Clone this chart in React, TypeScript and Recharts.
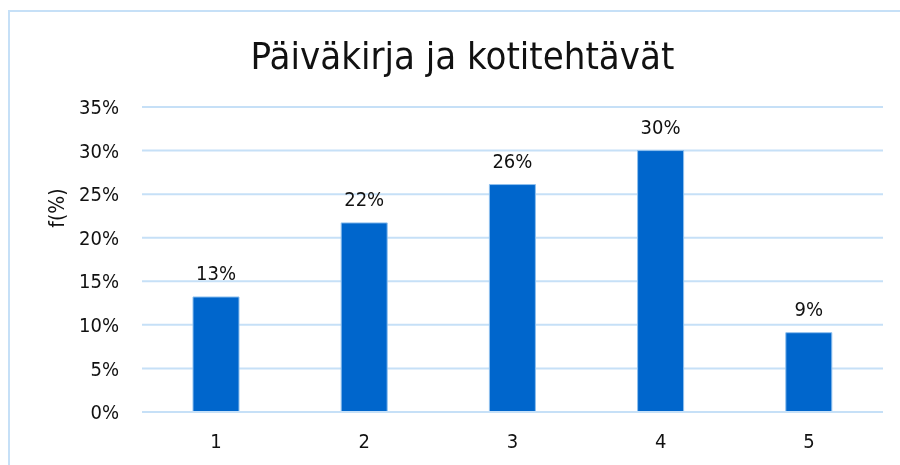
import React from "react";
import { BarChart, Bar, XAxis, YAxis, CartesianGrid, LabelList, Label } from "recharts";

const categories = ["1", "2", "3", "4", "5"];
const values = [0.132, 0.217, 0.261, 0.3, 0.091];
const yTicks = [0, 0.05, 0.1, 0.15, 0.2, 0.25, 0.3, 0.35];
const title = "Päiväkirja ja kotitehtävät";
const yLabel = "f(%)";

const data = categories.map((c, i) => ({ name: c, value: values[i] }));

const FONT = "'DejaVu Sans Condensed', 'DejaVu Sans', sans-serif";
const GRID = "#c6e0f7";

const pct = (v: any) => `${Math.round(Number(v) * 100)}%`;

export default function App() {
  return (
    <div style={{ position: "relative", width: 884, height: 449, overflow: "hidden" }}>
      <div
        style={{
          position: "fixed",
          left: 8,
          top: 10,
          width: 900,
          height: 460,
          borderLeft: `2px solid ${GRID}`,
          borderTop: `2px solid ${GRID}`,
          boxSizing: "border-box",
        }}
      />
      <div
        style={{
          position: "absolute",
          left: 0,
          top: 24,
          width: 909,
          textAlign: "center",
          fontFamily: FONT,
          fontSize: 38,
          color: "#111",
          lineHeight: "48px",
          fontStretch: "condensed",
        }}
      >
        {title}
      </div>
      <div style={{ position: "absolute", left: 0, top: 0 }}>
        <BarChart
          width={892}
          height={457}
          data={data}
          margin={{ top: 99, right: 17, bottom: 0, left: 0 }}
          barSize={46}
        >
          <CartesianGrid vertical={false} stroke={GRID} strokeWidth={2} />
          <XAxis
            dataKey="name"
            height={53}
            axisLine={{ stroke: GRID, strokeWidth: 2 }}
            tickLine={false}
            tickSize={0}
            tickMargin={22}
            tick={{ fill: "#111", fontSize: 20, fontFamily: FONT, fontStretch: "condensed" }}
          />
          <YAxis
            width={134}
            domain={[0, 0.35]}
            ticks={yTicks}
            tickFormatter={pct}
            axisLine={false}
            tickLine={false}
            tickSize={0}
            tickMargin={23}
            tick={{ fill: "#111", fontSize: 20, fontFamily: FONT, fontStretch: "condensed" }}
          >
            <Label
              content={(props: any) => {
                const vb = props.viewBox || {};
                const cx = (vb.x ?? 0) + 49;
                const cy = (vb.y ?? 0) + 101;
                return (
                  <text
                    x={cx}
                    y={cy}
                    transform={`rotate(-90 ${cx} ${cy})`}
                    textAnchor="middle"
                    dominantBaseline="central"
                    fontFamily={FONT}
                    fontSize={21}
                    fill="#111"
                    style={{ fontStretch: "condensed" }}
                  >
                    {yLabel}
                  </text>
                );
              }}
            />
          </YAxis>
          <Bar dataKey="value" fill="#0066cc" stroke="#8fc0ee" strokeWidth={1} isAnimationActive={false}>
            <LabelList
              dataKey="value"
              position="top"
              offset={17}
              formatter={pct}
              fill="#111"
              fontSize={20}
              fontFamily={FONT}
              style={{ fontStretch: "condensed" }}
            />
          </Bar>
        </BarChart>
      </div>
    </div>
  );
}
